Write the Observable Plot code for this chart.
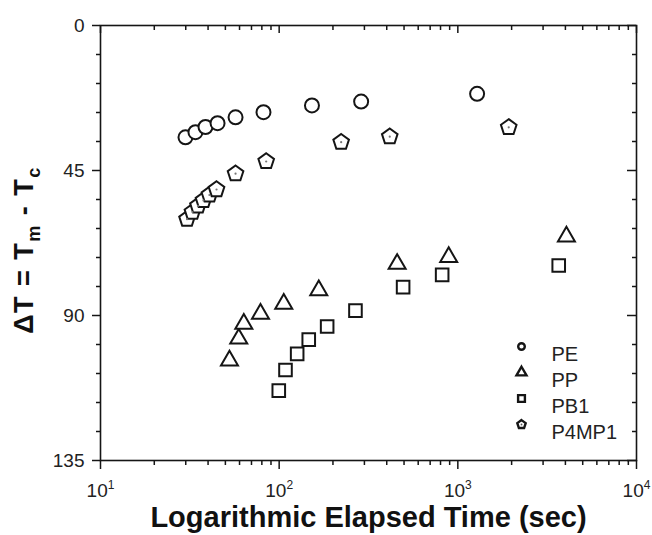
<!DOCTYPE html>
<html><head><meta charset="utf-8">
<script src="https://cdn.jsdelivr.net/npm/d3@7"></script>
<script src="https://cdn.jsdelivr.net/npm/@observablehq/plot@0.6"></script>
<style>
body{margin:0;background:#fff}
svg{font-family:"Liberation Sans",Arial,sans-serif}
</style>
</head><body><div id="chart"></div>
<script>
// ---- data ----
const seriesNames = ["PE", "PP", "PB1", "P4MP1"];
const peTime  = [29.9, 34.0, 38.7, 45.2, 57.0, 81.7, 152.6, 287.6, 1282];
const peDT    = [34.7, 33.1, 31.5, 30.3, 28.5, 26.9, 24.8, 23.6, 21.2];
const ppTime  = [52.7, 59.4, 63.4, 78.6, 106.1, 166.6, 457.5, 889, 4053];
const ppDT    = [104.0, 97.2, 92.6, 89.5, 86.4, 82.2, 74.0, 71.9, 65.5];
const pb1Time = [99.5, 108.5, 126.1, 146.4, 185.6, 267.3, 494, 817, 3670];
const pb1DT   = [113.3, 106.9, 101.9, 97.5, 93.4, 88.5, 81.2, 77.4, 74.5];
const p4Time  = [30.5, 32.7, 35.1, 37.7, 40.7, 44.6, 57.0, 84.6, 222.3, 415.9, 1927];
const p4DT    = [60.1, 57.9, 56.0, 54.3, 52.6, 50.9, 46.0, 42.2, 36.2, 34.5, 31.6];
const xMajorTicks = [10, 100, 1000, 10000];
const xTickExponents = ["1", "2", "3", "4"];
const yMajorTicks = [0, 45, 90, 135];
const yMinorTicks = [9, 18, 27, 36, 54, 63, 72, 81, 99, 108, 117, 126];
const xMinorTicks = [20,30,40,50,60,70,80,90,200,300,400,500,600,700,800,900,2000,3000,4000,5000,6000,7000,8000,9000];
const xTitle = "Logarithmic Elapsed Time (sec)";
const yTitle = "\u0394T = Tm - Tc";

// ---- custom symbols ----
const halfOf = size => Math.sqrt(size / Math.PI);
const symTriangle = {draw(c, size){ const R = halfOf(size), h = R*Math.sqrt(3);
  c.moveTo(0, -2*h/3); c.lineTo(R, h/3); c.lineTo(-R, h/3); c.closePath(); }};
const symSquare = {draw(c, size){ const R = halfOf(size);
  c.moveTo(-R,-R); c.lineTo(R,-R); c.lineTo(R,R); c.lineTo(-R,R); c.closePath(); }};
const symPentagon = {draw(c, size){ const R = halfOf(size);
  for (let k=0;k<5;k++){ const a = -Math.PI/2 + k*2*Math.PI/5;
    const px = R*Math.cos(a), py = R*Math.sin(a); k ? c.lineTo(px,py) : c.moveTo(px,py); }
  c.closePath(); }};

const series = [
  {name: seriesNames[0], t: peTime,  v: peDT,  symbol: "circle",    r: 7,   lr: 3.3},
  {name: seriesNames[1], t: ppTime,  v: ppDT,  symbol: symTriangle, r: 8.5, lr: 5},
  {name: seriesNames[2], t: pb1Time, v: pb1DT, symbol: symSquare,   r: 6.3, lr: 3.4},
  {name: seriesNames[3], t: p4Time,  v: p4DT,  symbol: symPentagon, r: 8.2, lr: 4.4}
];

const W = 652, H = 535, mL = 100, mR = 16, mT = 25, mB = 75;
const fw = W - mL - mR, fh = H - mT - mB;
const ink = "#151515";

const marks = [];
// data points
for (const s of series) {
  const rows = s.t.map((t, i) => ({t, v: s.v[i]}));
  marks.push(Plot.dot(rows, {x: "t", y: "v", symbol: s.symbol, r: s.r, stroke: ink, fill: "white", strokeWidth: 2}));
  if (s.name === "P4MP1") marks.push(Plot.dot(rows, {x: "t", y: "v", r: 1.1, fill: "#777", stroke: "none"}));
}
// frame and ticks
marks.push(Plot.frame({stroke: ink, strokeWidth: 1.6}));
const tk = {stroke: ink, strokeWidth: 1.5};
marks.push(Plot.tickX(xMajorTicks, {x: d => d, insetTop: fh, insetBottom: -9, ...tk}));
marks.push(Plot.tickX(xMinorTicks, {x: d => d, insetTop: fh, insetBottom: -5, ...tk}));
marks.push(Plot.tickX(xMajorTicks, {x: d => d, insetTop: 0, insetBottom: fh - 8, ...tk}));
marks.push(Plot.tickX(xMinorTicks, {x: d => d, insetTop: 0, insetBottom: fh - 5, ...tk}));
marks.push(Plot.tickY(yMajorTicks, {y: d => d, insetLeft: -8, insetRight: fw, ...tk}));
marks.push(Plot.tickY(yMinorTicks, {y: d => d, insetLeft: -4, insetRight: fw, ...tk}));
marks.push(Plot.tickY(yMajorTicks, {y: d => d, insetLeft: fw - 9, insetRight: 0, ...tk}));
marks.push(Plot.tickY(yMinorTicks, {y: d => d, insetLeft: fw - 4, insetRight: 0, ...tk}));
// tick labels
marks.push(Plot.text(xMajorTicks, {x: d => d, frameAnchor: "bottom", dy: 23, lineAnchor: "top", textAnchor: "middle",
  text: d => "10^" + xTickExponents[xMajorTicks.indexOf(d)], fontSize: 19, fill: "#222"}));
marks.push(Plot.text(yMajorTicks, {y: d => d, frameAnchor: "left", dx: -16, textAnchor: "end",
  text: d => String(d), fontSize: 19, fill: "#222"}));
// titles
marks.push(Plot.text([xTitle], {frameAnchor: "bottom", dy: 66, text: d => d, fontSize: 29, fontWeight: "bold", fill: "#111"}));
marks.push(Plot.text([yTitle], {frameAnchor: "left", dx: -76, dy: 7, rotate: -90, textAnchor: "middle", text: d => d, fontSize: 27, fontWeight: "bold", fill: "#111"}));
// legend
series.forEach((s, i) => {
  const dy = 321 + i * 26;
  marks.push(Plot.dot([s.name], {frameAnchor: "top-left", dx: 421, dy, symbol: s.symbol, r: s.lr, stroke: ink, fill: "white", strokeWidth: 2.4}));
  if (s.name === "P4MP1") marks.push(Plot.dot([s.name], {frameAnchor: "top-left", dx: 421, dy, r: 0.9, fill: "#555"}));
  marks.push(Plot.text([s.name], {frameAnchor: "top-left", dx: 451, dy, text: d => d, textAnchor: "start", fontSize: 20, fill: "#222"}));
});

const chart = Plot.plot({
  width: W, height: H, marginLeft: mL, marginRight: mR, marginTop: mT, marginBottom: mB,
  x: {type: "log", domain: [10, 10000], axis: null},
  y: {domain: [0, 135], reverse: true, axis: null},
  style: {fontFamily: '"Liberation Sans", Arial, sans-serif', background: "#fff", color: ink},
  marks
});
document.getElementById("chart").append(chart);

// superscripts / subscripts
d3.select(chart).selectAll("text").each(function() {
  const t = this.textContent;
  if (/^10\^\d$/.test(t)) {
    const exp = t.slice(3);
    const sel = d3.select(this); sel.text("");
    sel.append("tspan").text("10");
    sel.append("tspan").attr("dy", "-8px").attr("font-size", "12px").text(exp);
  } else if (t === yTitle) {
    const sel = d3.select(this); sel.text("").style("letter-spacing", "1.5px");
    sel.append("tspan").text("\u0394T = T");
    sel.append("tspan").attr("dy", "7px").attr("font-size", "18px").text("m");
    sel.append("tspan").attr("dy", "-7px").text(" - T");
    sel.append("tspan").attr("dy", "7px").attr("font-size", "18px").text("c");
  }
});
</script>
</body></html>
